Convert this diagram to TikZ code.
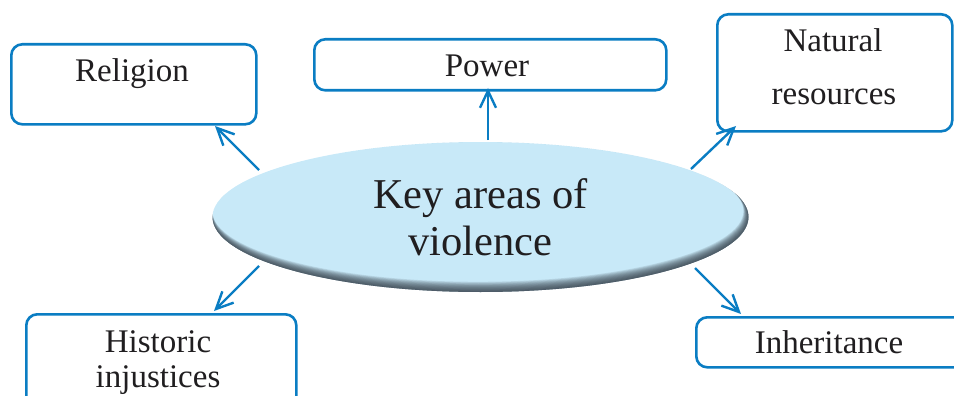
\documentclass[tikz,border=0pt]{standalone}
\usepackage{fontspec}
\setmainfont{Liberation Serif}
\usetikzlibrary{arrows.meta,shapes.geometric}
\definecolor{boxblue}{RGB}{10,125,195}
\definecolor{ellblue}{RGB}{200,233,248}
\definecolor{rim}{RGB}{50,60,70}
\definecolor{txt}{RGB}{32,30,32}
\begin{document}
\begin{tikzpicture}[x=1pt,y=-1pt,
  box/.style={draw=boxblue,line width=2.6pt,rounded corners=11pt,fill=white,inner sep=0pt},
  lbl/.style={font=\fontsize{33}{36}\selectfont,text=txt,anchor=base,inner sep=0pt},
  arr/.style={draw=boxblue,line width=2.4pt,-{Straight Barb[length=17pt,width=16pt]}}]
\useasboundingbox (0,0) rectangle (954,396);
\clip (0,0) rectangle (954,396);

% boxes
\node[box,anchor=north west,minimum width=245pt,minimum height=80pt] (rel) at (10,43) {};
\node[box,anchor=north west,minimum width=352pt,minimum height=51pt] (pow) at (313,38) {};
\node[box,anchor=north west,minimum width=235pt,minimum height=117pt] (nat) at (716,13) {};
\node[box,anchor=north west,minimum width=270pt,minimum height=110pt] (his) at (25,313) {};
\node[box,anchor=north west,minimum width=300pt,minimum height=50pt] (inh) at (695,316) {};

% labels
\node[lbl] (trel) at (132,82) {Religion};
\node[lbl] (tpow) at (487,77) {Power};
\node[lbl] (tnat1) at (833,52) {Natural};
\node[lbl] (tnat2) at (834,105) {resources};
\node[lbl] (this1) at (158,352) {Historic};
\node[lbl] (this2) at (158,387) {injustices};
\node[lbl] (tinh) at (829,353) {Inheritance};

% ellipse with shaded rim (dark at bottom and right end)
\fill[ellblue] (480.5,217) ellipse [x radius=268, y radius=75];
\begin{scope}
  \clip (480.5,217) ellipse [x radius=268, y radius=75];
  \foreach \k in {1,...,12} {
    \fill[rim,opacity=0.12,even odd rule]
      (480.5,217) ellipse [x radius=270, y radius=77]
      (480.5-0.22*\k,217-0.5*\k) ellipse [x radius=268-0.2*\k, y radius=75-0.35*\k];
  }
\end{scope}
\node[ellipse,minimum width=536pt,minimum height=150pt,align=center,inner sep=0pt,
      font=\fontsize{42.5}{47}\selectfont,text=txt] (ell) at (480.5,217) {Key areas of\\violence};

% connectors
\coordinate (r0) at (259,170); \coordinate (r1) at (215,126);
\coordinate (p0) at (488,140); \coordinate (p1) at (488,88);
\coordinate (n0) at (691,169); \coordinate (n1) at (736,126);
\coordinate (h0) at (259,266); \coordinate (h1) at (214,311);
\coordinate (i0) at (695,268); \coordinate (i1) at (741,314);
\draw[arr] (r0) -- (r1);
\draw[arr] (p0) -- (p1);
\draw[arr] (n0) -- (n1);
\draw[arr] (h0) -- (h1);
\draw[arr] (i0) -- (i1);
\end{tikzpicture}
\end{document}
